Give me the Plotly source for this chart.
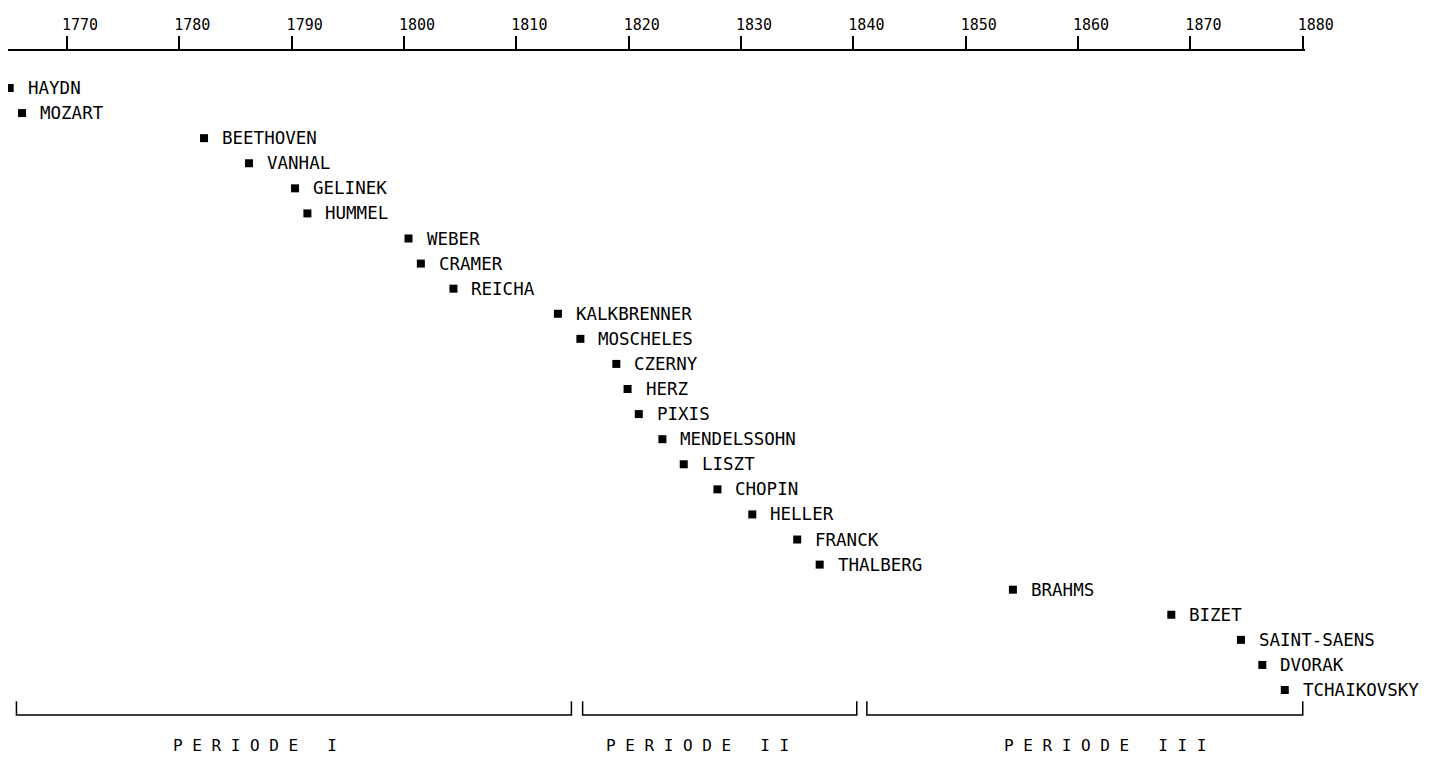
import plotly.graph_objects as go

# ---- data ----
composers = ["HAYDN", "MOZART", "BEETHOVEN", "VANHAL", "GELINEK", "HUMMEL", "WEBER",
             "CRAMER", "REICHA", "KALKBRENNER", "MOSCHELES", "CZERNY", "HERZ", "PIXIS",
             "MENDELSSOHN", "LISZT", "CHOPIN", "HELLER", "FRANCK", "THALBERG", "BRAHMS",
             "BIZET", "SAINT-SAENS", "DVORAK", "TCHAIKOVSKY"]
years = [1764.9, 1766.0, 1782.2, 1786.2, 1790.3, 1791.4, 1800.4,
         1801.5, 1804.4, 1813.7, 1815.7, 1818.9, 1819.9, 1820.9,
         1823.0, 1824.9, 1827.9, 1831.0, 1835.0, 1837.0, 1854.2,
         1868.3, 1874.5, 1876.4, 1878.4]
tick_years = [1770, 1780, 1790, 1800, 1810, 1820, 1830, 1840, 1850, 1860, 1870, 1880]

period_labels = ["P E R I O D E   I", "P E R I O D E   I I", "P E R I O D E   I I I"]
period_start = [1765.5, 1815.9, 1841.2]
period_end = [1814.9, 1840.3, 1880.0]
period_label_year = [1786.7, 1826.1, 1862.4]

rows = list(range(len(composers)))
FONT = "DejaVu Sans Mono"

fig = go.Figure()
fig.add_trace(go.Scatter(
    x=years, y=rows, mode="markers",
    marker=dict(symbol="square", size=8, color="black"),
    hoverinfo="skip", showlegend=False, cliponaxis=False,
))

for name, yr, r in zip(composers, years, rows):
    fig.add_annotation(x=yr, y=r, text=name, showarrow=False, xanchor="left",
                       yanchor="middle", xshift=16,
                       font=dict(family=FONT, size=17.5, color="black"))

row_bottom = len(composers)        # bracket baseline row
tick_h = 0.55
for lab, s, e, lx in zip(period_labels, period_start, period_end, period_label_year):
    fig.add_shape(type="path",
                  path=f"M {s},{row_bottom - tick_h} L {s},{row_bottom} L {e},{row_bottom} L {e},{row_bottom - tick_h}",
                  xref="x", yref="y", line=dict(color="black", width=1.5))
    fig.add_annotation(x=lx, y=row_bottom + 1.2, text=lab, showarrow=False,
                       xanchor="center", yanchor="middle",
                       font=dict(family=FONT, size=16, color="black"))

fig.update_xaxes(
    side="top", range=[1764.75, 1880.2],
    tickvals=tick_years, ticktext=[str(t) for t in tick_years],
    ticks="outside", ticklen=13, tickwidth=1.5, tickcolor="black",
    showline=True, linecolor="black", linewidth=1.5,
    showgrid=False, zeroline=False,
    ticklabelshift=13,
    tickfont=dict(family=FONT, size=15, color="black"),
)
fig.update_yaxes(range=[26.79, -1.475], visible=False, showgrid=False, zeroline=False)

fig.update_layout(
    width=1428, height=753,
    margin=dict(l=0, r=131, t=43, b=1),
    plot_bgcolor="white", paper_bgcolor="white",
)

fig.write_html("out.html")
